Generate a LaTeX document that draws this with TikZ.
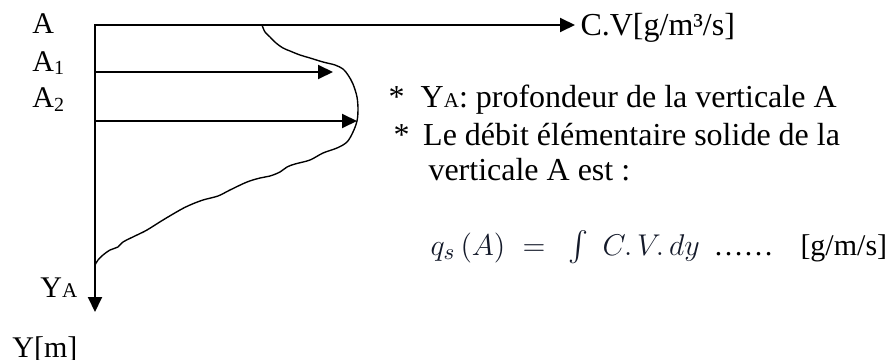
\documentclass[tikz,border=0pt]{standalone}
\usepackage{fontspec}
\setmainfont{Liberation Serif}
\usepackage{amsmath}
\usepackage{tikz}
\usetikzlibrary{arrows.meta,positioning}
\usepackage{xcolor}
\definecolor{ink}{HTML}{000000}
\definecolor{formula}{HTML}{141A2A}
\newcommand{\lowidx}[1]{\raisebox{-0.25ex}{\fontsize{8}{8}\selectfont #1}}
\newcommand{\smallidx}[1]{{\fontsize{8.4}{8.4}\selectfont #1}}
\tikzset{
  lbl/.style={inner sep=0pt,anchor=base west,font=\fontsize{12}{14.4}\selectfont,text=ink},
  note/.style={inner sep=0pt,anchor=base west,font=\fontsize{12.8}{15}\selectfont,text=ink},
  eqn/.style={inner sep=0pt,anchor=base west,font=\fontsize{12.5}{15}\selectfont,text=formula},
  axis/.style={{Triangle[length=6pt,width=5.6pt]}-{Triangle[length=6pt,width=5.6pt]},draw=ink,line width=0.8pt},
  arrow/.style={-{Triangle[length=6pt,width=5.6pt]},draw=ink,line width=0.8pt},
  profile/.style={draw=ink,line width=0.55pt}
}
\begin{document}
\begin{tikzpicture}[x=0.4pt,y=-0.4pt]
  \useasboundingbox (0,0) rectangle (895,360);
  % axes
  \coordinate (O) at (95,25);
  \coordinate (yend) at (95,312);
  \coordinate (xend) at (575,25);
  \draw[axis] (yend) -- (O) -- (xend);
  % vertical velocity profile
  \draw[profile] plot[smooth,tension=0.55] coordinates {
    (262,25) (265,32) (270,37) (276,43) (283,48) (290,51) (300,55) (310,58)
    (323,62) (335,65) (343,69) (348,75) (353,84) (357,97) (358,110) (357,121)
    (353,132) (347,142) (337,148) (323,153) (310,160) (295,164) (287,167)
    (280,172) (270,176) (260,178) (247,182) (230,190) (218,196) (203,200)
    (190,205) (180,210) (163,220) (147,230) (137,235) (123,242) (118,247)
    (110,250) (103,255) (98,260) (95,265)};
  % points A1, A2
  \coordinate (a1) at (95,72);
  \coordinate (a1end) at (333,72);
  \coordinate (a2) at (95,121);
  \coordinate (a2end) at (357,121);
  \draw[arrow] (a1) -- (a1end);
  \draw[arrow] (a2) -- (a2end);
  % labels
  \node[lbl] (lA) at (32,34) {A};
  \node[lbl] (lA1) at (32,71) {A\lowidx{1}};
  \node[lbl] (lA2) at (32,108) {A\lowidx{2}};
  \node[lbl] (lYA) at (40,297) {Y\smallidx{A}};
  \node[lbl] (lY) at (12,357) {Y[m]};
  \node[note] (lCV) at (580,35) {C.V[g/m³/s]};
  % notes
  \node[note] (n1) at (388,108) {*\hspace{6.5pt}Y\smallidx{A}: profondeur de la verticale A};
  \node[note] (n2) at (393,145) {*\hspace{5.5pt}Le débit élémentaire solide de la};
  \node[note] (n3) at (428,180) {verticale A est :};
  % formula
  \node[eqn] (qs) at (430,255) {$q_s\,(A)$};
  \node[eqn] (eq) at (522,255) {$=$};
  \node[eqn] (int) at (568,255) {$\textstyle\int$};
  \node[eqn] (cv) at (602,255) {$C.\,V.\,dy$};
  \node[lbl] (dots) at (713,255) {……};
  \node[lbl] (unit) at (800,255) {[g/m/s]};
\end{tikzpicture}
\end{document}
